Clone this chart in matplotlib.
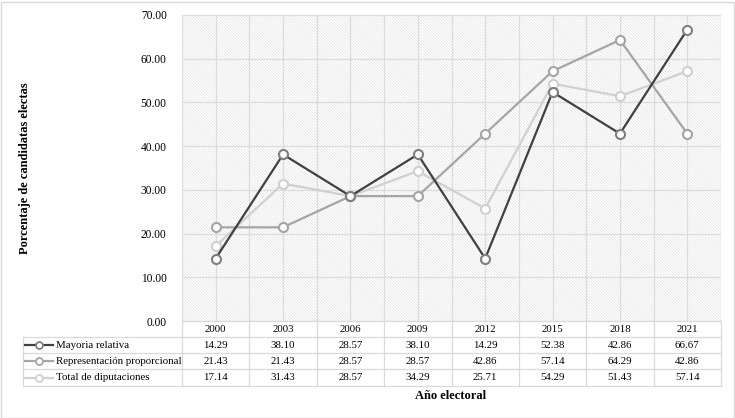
import matplotlib
matplotlib.use("Agg")
import matplotlib.pyplot as plt
from matplotlib.transforms import blended_transform_factory
from matplotlib.lines import Line2D
from matplotlib.patches import Rectangle

years = ["2000", "2003", "2006", "2009", "2012", "2015", "2018", "2021"]
mayoria = [14.29, 38.10, 28.57, 38.10, 14.29, 52.38, 42.86, 66.67]
representacion = [21.43, 21.43, 28.57, 28.57, 42.86, 57.14, 64.29, 42.86]
total = [17.14, 31.43, 28.57, 34.29, 25.71, 54.29, 51.43, 57.14]
series_names = ["Mayoria relativa", "Representación proporcional", "Total de diputaciones"]
y_ticks = [0, 10, 20, 30, 40, 50, 60, 70]

plt.rcParams['font.family'] = ['Liberation Serif', 'DejaVu Serif']
plt.rcParams['hatch.linewidth'] = 0.45
plt.rcParams['hatch.color'] = '#dedede'

W, H = 735, 418
fig = plt.figure(figsize=(W / 100, H / 100), dpi=100)
fig.patch.set_facecolor('white')

left, right, top, bottom = 182, 721, 15, 321
ax = fig.add_axes([left / W, 1 - bottom / H, (right - left) / W, (bottom - top) / H])

n = len(years)
xs = list(range(n))
ax.set_xlim(-0.5, n - 0.5)
ax.set_ylim(0, 70)

# hatched background
bg = Rectangle((0, 0), 1, 1, transform=ax.transAxes, facecolor='white',
               edgecolor='#dedede', lw=0, hatch='\\' * 11, zorder=0)
ax.add_patch(bg)

# gridlines
for k in range(2 * n + 1):
    ax.axvline(-0.5 + 0.5 * k, color='#dcdcdc', lw=0.9, zorder=1)
for yv in y_ticks:
    ax.axhline(yv, color='#dcdcdc', lw=0.9, zorder=1)

for s in ax.spines.values():
    s.set_visible(False)
ax.set_xticks([])
ax.set_yticks(y_ticks)
ax.set_yticklabels([f"{v:.2f}" for v in y_ticks], fontsize=8.3)
ax.tick_params(axis='y', length=0, pad=11)

styles = [
    dict(color='#404040', mec='#7f7f7f'),
    dict(color='#a5a5a5', mec='#a5a5a5'),
    dict(color='#d0d0d0', mec='#d0d0d0'),
]
data = [mayoria, representacion, total]
for vals, st, z in zip(data, styles, [5, 4, 3]):
    ax.plot(xs, vals, color=st['color'], lw=1.6, marker='o', ms=6.5,
            mfc='white', mec=st['mec'], mew=1.5, zorder=z, clip_on=False)

# data table
tr = blended_transform_factory(ax.transData, fig.transFigure)
def fy(p):
    return 1 - p / H

row_edges = [321, 337, 353, 369, 386]
tcol = '#d9d9d9'
fs = 7.8
fig.add_artist(Line2D([-0.5, n - 0.5], [fy(321)] * 2, transform=tr, color=tcol, lw=0.9))
for yy in row_edges[1:]:
    fig.add_artist(Line2D([23 / W, right / W], [fy(yy)] * 2, transform=fig.transFigure, color=tcol, lw=0.9))
for k in range(n + 1):
    fig.add_artist(Line2D([-0.5 + k, -0.5 + k], [fy(321), fy(386)], transform=tr, color=tcol, lw=0.9))
fig.add_artist(Line2D([23 / W, 23 / W], [fy(337), fy(386)], transform=fig.transFigure, color=tcol, lw=0.9))

for i, yr in enumerate(years):
    fig.text(i, fy(329.5), yr, transform=tr, ha='center', va='center', fontsize=fs)

for r, (name, vals, st) in enumerate(zip(series_names, data, styles)):
    yc = fy((row_edges[r + 1] + row_edges[r + 2]) / 2)
    fig.add_artist(Line2D([25 / W, 53 / W], [yc, yc], transform=fig.transFigure,
                          color=st['color'], lw=1.6))
    fig.add_artist(Line2D([39 / W], [yc], transform=fig.transFigure, marker='o', ms=5,
                          mfc='white', mec=st['mec'], mew=1.3, lw=0))
    fig.text(56 / W, yc, name, ha='left', va='center', fontsize=fs)
    for i, v in enumerate(vals):
        fig.text(i, yc, f"{v:.2f}", transform=tr, ha='center', va='center', fontsize=fs)

fig.text(451 / W, fy(396), "Año electoral", ha='center', va='center',
         fontsize=9, fontweight='bold')
fig.text(25 / W, fy(168), "Porcentaje de candidatas electas", ha='center', va='center',
         rotation=90, fontsize=9, fontweight='bold')

fig.add_artist(Rectangle((0.5 / W, 0.5 / H), (W - 2) / W, (H - 2) / H,
                         transform=fig.transFigure, fill=False, edgecolor='#d9d9d9', lw=1))

fig.savefig('out.png', dpi=100)
